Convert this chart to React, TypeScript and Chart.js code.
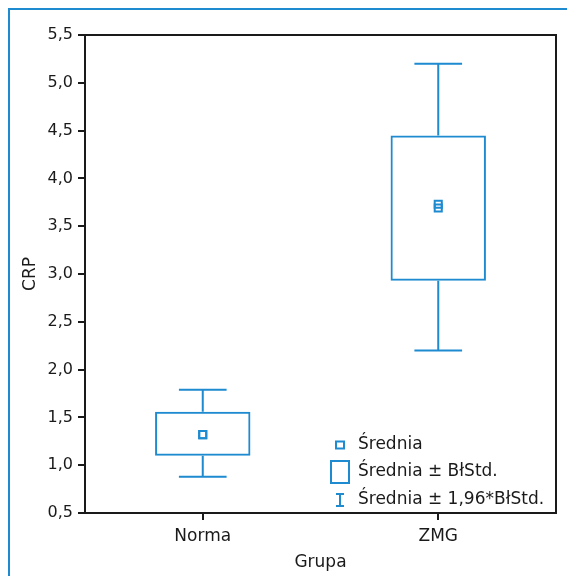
import React, { useEffect, useRef } from "react";
import { Chart, registerables } from "chart.js";

Chart.register(...registerables);

const categories = ["Norma", "ZMG"];
const boxLow = [1.1, 2.93];
const boxHigh = [1.56, 4.45];
const whiskerLow = [0.88, 2.2];
const whiskerHigh = [1.79, 5.2];
const means = [1.32, 3.73];
const meansAlt = [1.32, 3.69];
const legendLabels = ["Średnia", "Średnia ± BłStd.", "Średnia ± 1,96*BłStd."];
const yTitle = "CRP";
const xTitle = "Grupa";

const BLUE = "#1e8ad0";
const INK = "#1a1a1a";
const FONT = "'DejaVu Sans', sans-serif";

const extrasPlugin = {
  id: "boxExtras",
  afterDatasetsDraw(chart: any) {
    const ctx = chart.ctx;
    const y = chart.scales.y;
    const meta = chart.getDatasetMeta(0);
    ctx.save();
    ctx.strokeStyle = BLUE;
    ctx.lineWidth = 2;
    meta.data.forEach((bar: any, i: number) => {
      const { x, width } = bar.getProps(["x", "width"], true);
      const top = y.getPixelForValue(boxHigh[i]);
      const bot = y.getPixelForValue(boxLow[i]);
      const wHi = y.getPixelForValue(whiskerHigh[i]);
      const wLo = y.getPixelForValue(whiskerLow[i]);
      const cap = width / 4;
      ctx.beginPath();
      ctx.moveTo(x, top);
      ctx.lineTo(x, wHi);
      ctx.moveTo(x - cap, wHi);
      ctx.lineTo(x + cap, wHi);
      ctx.moveTo(x, bot);
      ctx.lineTo(x, wLo);
      ctx.moveTo(x - cap, wLo);
      ctx.lineTo(x + cap, wLo);
      ctx.stroke();
    });
    const a = chart.chartArea;
    ctx.strokeStyle = INK;
    ctx.lineWidth = 2;
    ctx.strokeRect(a.left, a.top, a.right - a.left, a.bottom - a.top);

    // legend
    const mx = a.right - 216;
    const tx = a.right - 198;
    const rows = [a.bottom - 68, a.bottom - 41, a.bottom - 13];
    ctx.strokeStyle = BLUE;
    ctx.lineWidth = 2;
    ctx.strokeRect(mx - 4, rows[0] - 3.5, 8, 7);
    ctx.strokeRect(mx - 9, rows[1] - 11, 18, 22);
    ctx.beginPath();
    ctx.moveTo(mx, rows[2] - 6);
    ctx.lineTo(mx, rows[2] + 6);
    ctx.moveTo(mx - 4, rows[2] - 6);
    ctx.lineTo(mx + 4, rows[2] - 6);
    ctx.moveTo(mx - 4, rows[2] + 6);
    ctx.lineTo(mx + 4, rows[2] + 6);
    ctx.stroke();
    ctx.fillStyle = INK;
    ctx.font = `17px ${FONT}`;
    ctx.textBaseline = "middle";
    ctx.textAlign = "left";
    legendLabels.forEach((t, i) => ctx.fillText(t, tx, rows[i]));
    ctx.restore();
  },
};

export default function App() {
  const ref = useRef<HTMLCanvasElement>(null);
  useEffect(() => {
    document.documentElement.style.overflow = "hidden";
    const chart = new Chart(ref.current as HTMLCanvasElement, {
      type: "bar",
      data: {
        labels: categories,
        datasets: [
          {
            type: "bar",
            data: boxLow.map((l, i) => [l, boxHigh[i]]) as any,
            backgroundColor: "rgba(0,0,0,0)",
            borderColor: BLUE,
            borderWidth: 2,
            borderSkipped: false,
            barPercentage: 0.405,
            categoryPercentage: 1,
          },
          {
            type: "line",
            data: means,
            showLine: false,
            pointStyle: "rect",
            pointRadius: 5,
            pointBorderWidth: 2,
            pointBorderColor: BLUE,
            pointBackgroundColor: "rgba(0,0,0,0)",
          },
          {
            type: "line",
            data: meansAlt,
            showLine: false,
            pointStyle: "rect",
            pointRadius: 5,
            pointBorderWidth: 2,
            pointBorderColor: BLUE,
            pointBackgroundColor: "rgba(0,0,0,0)",
          },
        ] as any,
      },
      options: {
        animation: false,
        responsive: false,
        layout: { padding: { top: 25, right: 19, left: 0, bottom: 0 } },
        plugins: { legend: { display: false }, tooltip: { enabled: false } },
        scales: {
          x: {
            offset: true,
            grid: {
              offset: false,
              drawOnChartArea: false,
              drawTicks: true,
              tickLength: 7,
              color: INK,
              lineWidth: 2,
            },
            border: { display: true, color: INK, width: 2 },
            ticks: { color: INK, padding: 6, font: { family: FONT, size: 17 } },
            title: {
              display: true,
              text: xTitle,
              color: INK,
              font: { family: FONT, size: 17 },
              padding: { top: 0, bottom: 3 },
            },
            afterFit: (s: any) => {
              s.height = 63;
            },
          },
          y: {
            min: 0.5,
            max: 5.5,
            grid: {
              drawOnChartArea: false,
              drawTicks: true,
              tickLength: 7,
              color: INK,
              lineWidth: 2,
            },
            border: { display: true, color: INK, width: 2 },
            ticks: {
              stepSize: 0.5,
              color: INK,
              padding: 5,
              font: { family: FONT, size: 16 },
              callback: (v: any) => Number(v).toFixed(1).replace(".", ","),
            },
            title: {
              display: true,
              text: yTitle,
              color: INK,
              font: { family: FONT, size: 17 },
              padding: { top: 10, bottom: 0 },
            },
            afterFit: (s: any) => {
              s.width = 75;
            },
          },
        },
      },
      plugins: [extrasPlugin],
    });
    return () => chart.destroy();
  }, []);
  return (
    <div
      style={{
        width: 567,
        height: 568,
        boxSizing: "border-box",
        borderTop: `2px solid ${BLUE}`,
        borderLeft: `2px solid ${BLUE}`,
        overflow: "hidden",
      }}
    >
      <canvas ref={ref} width={565} height={566} style={{ display: "block" }} />
    </div>
  );
}
